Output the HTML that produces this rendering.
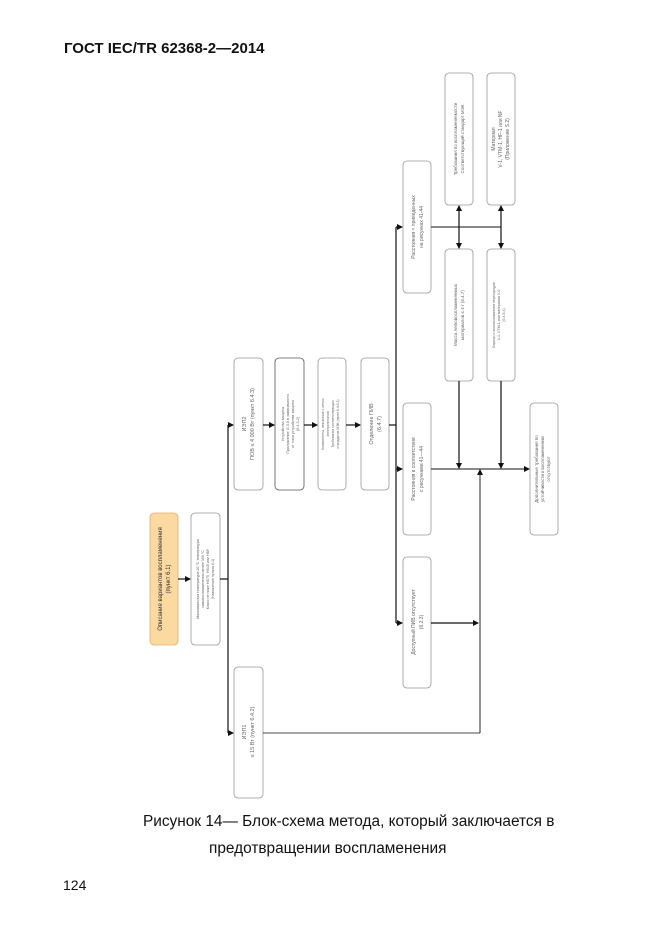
<!DOCTYPE html>
<html><head><meta charset="utf-8"><style>
html,body{margin:0;padding:0;background:#fff;}
svg{display:block;}
.t{font-family:"Liberation Sans",sans-serif;fill:#666;text-anchor:middle;}
</style></head><body>
<svg width="661" height="935" viewBox="0 0 661 935" xmlns="http://www.w3.org/2000/svg">
<defs>
<marker id="a" markerWidth="6" markerHeight="6" refX="5" refY="3" orient="auto" markerUnits="userSpaceOnUse"><path d="M0,0 L6,3 L0,6 z" fill="#111"/></marker>
</defs>
<text x="64" y="53" font-family="Liberation Sans,sans-serif" font-weight="bold" font-size="15" fill="#111">ГОСТ IEC/TR 62368-2—2014</text>

<g fill="#fff" stroke="#999" stroke-width="0.8">
<rect x="150" y="513" width="28" height="132" rx="4" fill="#fcd9a0" stroke="#e0b070"/>
<rect x="191" y="513" width="29" height="132" rx="4"/>
<rect x="234" y="358" width="29" height="132" rx="4"/>
<rect x="275" y="358" width="29" height="132" rx="4" stroke="#555"/>
<rect x="318" y="358" width="28" height="132" rx="4"/>
<rect x="361" y="358" width="28" height="132" rx="4"/>
<rect x="403" y="403" width="28" height="132" rx="4"/>
<rect x="403" y="557" width="28" height="131" rx="4"/>
<rect x="234" y="667" width="29" height="131" rx="4"/>
<rect x="530" y="403" width="28" height="132" rx="4"/>
<rect x="403" y="161" width="28" height="132" rx="4"/>
<rect x="445" y="73" width="28" height="132" rx="4"/>
<rect x="487" y="73" width="28" height="132" rx="4"/>
<rect x="445" y="249" width="28" height="132" rx="4"/>
<rect x="487" y="249" width="28" height="132" rx="4"/>
</g>

<g stroke="#111" stroke-width="1.2" fill="none">
<line x1="178" y1="579" x2="190" y2="579" marker-end="url(#a)"/>
<line x1="220" y1="579" x2="228" y2="579"/>
<line x1="228" y1="425" x2="228" y2="733"/>
<line x1="228" y1="425" x2="233" y2="425" marker-end="url(#a)"/>
<line x1="228" y1="733" x2="233" y2="733" marker-end="url(#a)"/>
<line x1="263" y1="425" x2="274" y2="425" marker-end="url(#a)"/>
<line x1="304" y1="425" x2="317" y2="425" marker-end="url(#a)"/>
<line x1="346" y1="425" x2="360" y2="425" marker-end="url(#a)"/>
<line x1="389" y1="425" x2="396" y2="425"/>
<line x1="396" y1="227" x2="396" y2="623"/>
<line x1="396" y1="227" x2="402" y2="227" marker-end="url(#a)"/>
<line x1="396" y1="469" x2="402" y2="469" marker-end="url(#a)"/>
<line x1="396" y1="623" x2="402" y2="623" marker-end="url(#a)"/>
<line x1="431" y1="227" x2="501" y2="227" stroke-width="0.9"/>
<line x1="459" y1="227" x2="459" y2="206" marker-end="url(#a)"/>
<line x1="459" y1="227" x2="459" y2="248" marker-end="url(#a)"/>
<line x1="501" y1="227" x2="501" y2="206" marker-end="url(#a)"/>
<line x1="501" y1="227" x2="501" y2="248" marker-end="url(#a)"/>
<line x1="459" y1="381" x2="459" y2="468" marker-end="url(#a)"/>
<line x1="501" y1="381" x2="501" y2="468" marker-end="url(#a)"/>
<line x1="431" y1="469" x2="529" y2="469" stroke-width="0.9" marker-end="url(#a)"/>
<line x1="431" y1="623" x2="478" y2="623" marker-end="url(#a)"/>
<line x1="480" y1="733" x2="480" y2="470" stroke-width="0.9" marker-end="url(#a)"/>
<line x1="263" y1="733" x2="480" y2="733" stroke-width="0.8"/>
</g>

<g class="t" font-size="5">
<text transform="translate(164,579) rotate(-90)" font-size="6" fill="#333"><tspan x="0" y="-2">Описание вариантов воспламенения</tspan><tspan x="0" y="6">(пункт 6.1)</tspan></text>
<text transform="translate(205,579) rotate(-90)" font-size="3.6"><tspan x="0" y="-6">Максимальная температура 20 °С температура</tspan><tspan x="0" y="-1">самовоспламенения менее 300 °С</tspan><tspan x="0" y="4">Класс не ниже HB75, HB40 или HBF</tspan><tspan x="0" y="9">(Назначение пункта 6.1)</tspan></text>
<text transform="translate(248,424) rotate(-90)" font-size="5.5"><tspan x="0" y="-2">ИЭП2</tspan><tspan x="0" y="6">ПОВ ≤ 4 000 Вт (пункт 6.4.3)</tspan></text>
<text transform="translate(290,424) rotate(-90)" font-size="3.8"><tspan x="0" y="-6">Устройства защиты</tspan><tspan x="0" y="-1">Приложение G.3.5 в зависимости</tspan><tspan x="0" y="4">от типа устройства защиты</tspan><tspan x="0" y="9">(6.4.3.2)</tspan></text>
<text transform="translate(332,424) rotate(-90)" font-size="3.4"><tspan x="0" y="-8">Компоненты, связанные с сетью</tspan><tspan x="0" y="-3">электропитания</tspan><tspan x="0" y="2">Требования соответствующих</tspan><tspan x="0" y="7">стандартов МЭК (пункт 6.4.3.2)</tspan></text>
<text transform="translate(375,424) rotate(-90)" font-size="5.5"><tspan x="0" y="-2">Отделение ПИВ</tspan><tspan x="0" y="6">(6.4.7)</tspan></text>
<text transform="translate(417,469) rotate(-90)" font-size="5"><tspan x="0" y="-2">Расстояния в соответствии</tspan><tspan x="0" y="6">с рисунками 41—44</tspan></text>
<text transform="translate(417,622) rotate(-90)" font-size="5"><tspan x="0" y="-2">Доступный ПИВ отсутствует</tspan><tspan x="0" y="6">(6.2.3)</tspan></text>
<text transform="translate(248,732) rotate(-90)" font-size="5.5"><tspan x="0" y="-2">ИЭП1</tspan><tspan x="0" y="6">≤ 15 Вт (пункт 6.4.2)</tspan></text>
<text transform="translate(544,469) rotate(-90)" font-size="4.5"><tspan x="0" y="-6">Дополнительные требования по</tspan><tspan x="0" y="0">устойчивости к воспламенению</tspan><tspan x="0" y="6">отсутствуют</tspan></text>
<text transform="translate(417,227) rotate(-90)" font-size="5"><tspan x="0" y="-2">Расстояния &lt; приведенных</tspan><tspan x="0" y="6">на рисунках 41-44</tspan></text>
<text transform="translate(459,139) rotate(-90)" font-size="4.5"><tspan x="0" y="-2">Требования по воспламеняемости</tspan><tspan x="0" y="5">Соответствующий стандарт МЭК</tspan></text>
<text transform="translate(501,139) rotate(-90)" font-size="5"><tspan x="0" y="-6">Материал</tspan><tspan x="0" y="1">V-1, VTM-1, HF-1 или NF</tspan><tspan x="0" y="8">(Приложение S.2)</tspan></text>
<text transform="translate(459,315) rotate(-90)" font-size="4.5"><tspan x="0" y="-2">Масса легковоспламеняемых</tspan><tspan x="0" y="5">материалов ≤ 4 г (6.4.7)</tspan></text>
<text transform="translate(501,315) rotate(-90)" font-size="3.6"><tspan x="0" y="-6">Барьер с использованием перегородки</tspan><tspan x="0" y="-1">V-1, VTM-1 или материала V-0</tspan><tspan x="0" y="4">(6.4.8.4)</tspan></text>
</g>

<g font-family="Liberation Sans,sans-serif" font-size="15.4" fill="#111">
<text x="143" y="826">Рисунок 14— Блок-схема метода, который заключается в</text>
<text x="209" y="853">предотвращении воспламенения</text>
<text x="63" y="890" font-size="14">124</text>
</g>
</svg>
</body></html>
